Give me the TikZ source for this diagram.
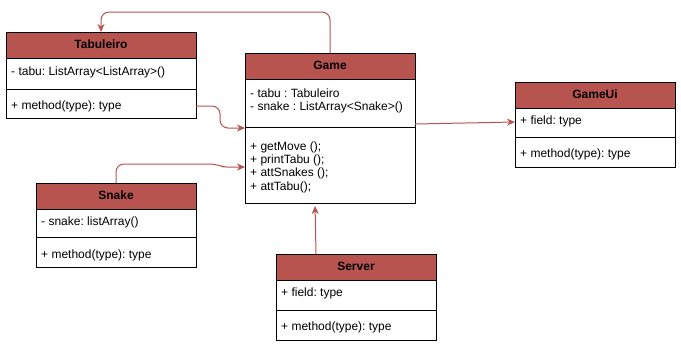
\documentclass[tikz,border=0pt]{standalone}
\usepackage{fontspec}
\setmainfont{Liberation Sans}
\usetikzlibrary{arrows.meta,calc}

\definecolor{umlred}{HTML}{B85450}
\frenchspacing

\tikzset{
  box/.style={draw=black, line width=1pt, inner sep=0pt, outer sep=0pt, anchor=north west},
  head/.style={box, fill=umlred, font=\fontsize{12}{13.4}\selectfont\bfseries,
               text height=9pt, text depth=2.5pt},
  rule/.style={draw=black, line width=1pt},
  txt/.style={anchor=west, inner sep=0pt, align=left,
              font=\fontsize{12}{13.4}\selectfont, text height=9pt, text depth=2.5pt},
  txtblock/.style={anchor=west, inner sep=0pt, align=left,
              font=\fontsize{12}{13.4}\selectfont},
  conn/.style={draw=umlred, line width=1pt,
               -{Stealth[length=8pt,width=7pt,inset=2.5pt]}},
}

% class box: name, top-left corner, width, height, title, divider offset
\newcommand\umlclassbox[6]{%
  \node[box, minimum width=#3, minimum height=#4] (#1) at (#2) {};
  \node[head, minimum width=#3, minimum height=26.5pt] (#1H) at (#2) {#5};
  \draw[rule] ($(#1.north west)+(0,#6)$) -- ($(#1.north east)+(0,#6)$);
}

\begin{document}
\begin{tikzpicture}[x=1pt, y=-1pt]
  \fill[white] (0,0) rectangle (681,349);
  \useasboundingbox (0,0) rectangle (681,349);

  % classes
  \umlclassbox{tab}{6,32}{190pt}{86pt}{Tabuleiro}{57}
  \node[txt] (tabF) at ($(tab.north west)+(5,40)$) {- tabu: ListArray<ListArray>()};
  \node[txt] (tabM) at ($(tab.north west)+(5,74)$) {+ method(type): type};

  \umlclassbox{game}{245,53}{170pt}{150pt}{Game}{74}
  \node[txtblock] (gameF) at ($(game.north west)+(5,48)$) {- tabu : Tabuleiro\\- snake : ListArray<Snake>()};
  \node[txtblock] (gameM) at ($(game.north west)+(5,114)$) {+ getMove ();\\+ printTabu ();\\+ attSnakes ();\\+ attTabu();};

  \umlclassbox{gui}{515,82}{160pt}{85.5pt}{GameUi}{55.5}
  \node[txt] (guiF) at ($(gui.north west)+(5,39)$) {+ field: type};
  \node[txt] (guiM) at ($(gui.north west)+(5,72)$) {+ method(type): type};

  \umlclassbox{snake}{36,183}{160pt}{84.5pt}{Snake}{54.5}
  \node[txt] (snakeF) at ($(snake.north west)+(5,39.5)$) {- snake: listArray()};
  \node[txt] (snakeM) at ($(snake.north west)+(5,72)$) {+ method(type): type};

  \umlclassbox{srv}{276,254}{160pt}{86pt}{Server}{56}
  \node[txt] (srvF) at ($(srv.north west)+(5,39.5)$) {+ field: type};
  \node[txt] (srvM) at ($(srv.north west)+(5,73.5)$) {+ method(type): type};

  % associations
  \draw[conn, rounded corners=8pt] (game.north) -- ++(0,-41) -| (tab.north);
  \draw[conn, rounded corners=8pt] ($(tab.south east)+(0,-12)$) -| ($(game.west)+(-25,0)$) -- (game.west);
  \draw[conn, rounded corners=8pt] (snake.north) |- ($(game.south west)+(-28,-39)$)
      [rounded corners=3pt] -- ($(game.south west)+(-21,-36)$) -- ($(game.south west)+(0,-36)$);
  \draw[conn, shorten >=3pt] ($(srv.north west)+(40,0)$) -- ($(game.south west)+(70,0)$);
  \draw[conn] ($(game.north east)+(0,71)$) -- ($(gui.north west)+(0,40)$);
\end{tikzpicture}
\end{document}
